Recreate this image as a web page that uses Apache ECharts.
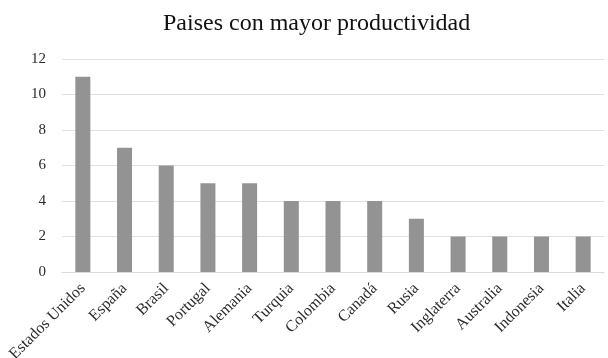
<!DOCTYPE html>
<html><head><meta charset="utf-8">
<script src="https://cdn.jsdelivr.net/npm/echarts@6/dist/echarts.min.js"></script>
<style>html,body{margin:0;padding:0;background:#fff}#c{width:608px;height:358px}</style>
</head><body><div id="c"></div>
<script>
const titleText = "Paises con mayor productividad";
const categories = ["Estados Unidos","España","Brasil","Portugal","Alemania","Turquia","Colombia","Canadá","Rusia","Inglaterra","Australia","Indonesia","Italia"];
const values = [11,7,6,5,5,4,4,4,3,2,2,2,2];
const yTicks = {min:0,max:12,interval:2};
const font = "'Liberation Serif', 'Times New Roman', serif";
const chart = echarts.init(document.getElementById('c'));
chart.setOption({
  animation:false,
  title:{text:titleText,left:158,top:7,textStyle:{fontFamily:font,fontSize:24,fontWeight:'normal',color:'#111'}},
  grid:{left:62,right:4,top:59,bottom:86,containLabel:false,outerBoundsMode:'none'},
  xAxis:{type:'category',data:categories,
    axisLine:{lineStyle:{color:'#d9d9d9'}},axisTick:{show:false},
    axisLabel:{rotate:45,interval:0,fontFamily:font,fontSize:16,color:'#2b2b2b',margin:14}},
  yAxis:{type:'value',min:yTicks.min,max:yTicks.max,interval:yTicks.interval,
    axisLine:{show:false},axisTick:{show:false},
    splitLine:{lineStyle:{color:'#e0e0e0'}},
    axisLabel:{fontFamily:font,fontSize:15,color:'#2b2b2b',margin:16}},
  series:[{type:'bar',data:values,barWidth:'36%',itemStyle:{color:'#939393'}}]
});
</script></body></html>
